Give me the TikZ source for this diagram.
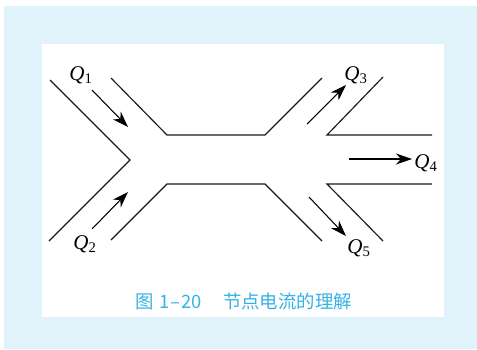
\documentclass[tikz,border=0pt]{standalone}
\usepackage{fontspec}
\setmainfont{Liberation Serif}
\newfontfamily\cjk{Noto Sans CJK SC}
\usetikzlibrary{arrows.meta}
\definecolor{panelblue}{HTML}{E0F3FB}
\definecolor{captionblue}{HTML}{35B2E6}
\tikzset{
  wall/.style={draw=black!90,line width=1.15pt},
  flow/.style={draw=black,line width=1.05pt,-{Stealth[length=16pt,width=11pt,inset=5pt]}},
  qlabel/.style={inner sep=0pt,font=\fontsize{21}{21}\selectfont},
  caption/.style={inner sep=0pt,text=captionblue,font=\cjk\fontsize{18.4}{19}\selectfont}
}
\newcommand{\flowq}[1]{\textit{Q}\textsubscript{#1}}
\begin{document}
\begin{tikzpicture}[x=1pt,y=-1pt]
\useasboundingbox (0,0) rectangle (477,349);
\fill[white] (0,0) rectangle (477,349);
\fill[panelblue] (4,6) rectangle (477,349);
\fill[white] (42,44) rectangle (444,317);
% left branches
\coordinate (a1) at (50,80);
\coordinate (a2) at (130,160);
\coordinate (a3) at (49,241);
\draw[wall] (a1) -- (a2) -- (a3);
% main channel, upper and lower wall
\coordinate (b1) at (111,78);
\coordinate (b2) at (167,135);
\coordinate (b3) at (265,135);
\coordinate (b4) at (322,78);
\draw[wall] (b1) -- (b2) -- (b3) -- (b4);
\coordinate (c1) at (111,240);
\coordinate (c2) at (167,184);
\coordinate (c3) at (265,184);
\coordinate (c4) at (322,241);
\draw[wall] (c1) -- (c2) -- (c3) -- (c4);
% right branches
\coordinate (d1) at (383,77);
\coordinate (d2) at (327,135);
\coordinate (d3) at (432,135);
\draw[wall] (d1) -- (d2) -- (d3);
\coordinate (e1) at (383,241);
\coordinate (e2) at (327,184);
\coordinate (e3) at (432,184);
\draw[wall] (e1) -- (e2) -- (e3);
% flows
\coordinate (f1s) at (92,90);
\coordinate (f1e) at (128,127);
\coordinate (f2s) at (92,229);
\coordinate (f2e) at (128,192);
\coordinate (f3s) at (307,124);
\coordinate (f3e) at (346,85);
\coordinate (f4s) at (349,159);
\coordinate (f4e) at (412,159);
\coordinate (f5s) at (309,197);
\coordinate (f5e) at (346,236);
\draw[flow] (f1s) -- (f1e);
\draw[flow] (f2s) -- (f2e);
\draw[flow] (f3s) -- (f3e);
\draw[flow] (f4s) -- (f4e);
\draw[flow] (f5s) -- (f5e);
\node[qlabel] (q1) at (81,75) {\flowq{1}};
\node[qlabel] (q2) at (85,244) {\flowq{2}};
\node[qlabel] (q3) at (356,75) {\flowq{3}};
\node[qlabel] (q4) at (426,163) {\flowq{4}};
\node[qlabel] (q5) at (359,248) {\flowq{5}};
\node[caption,anchor=west] (cap) at (135,301) {图\hspace{6pt}1\hspace{1pt}–\hspace{1pt}20\hspace{21pt}节点电流的理解};
\end{tikzpicture}
\end{document}
